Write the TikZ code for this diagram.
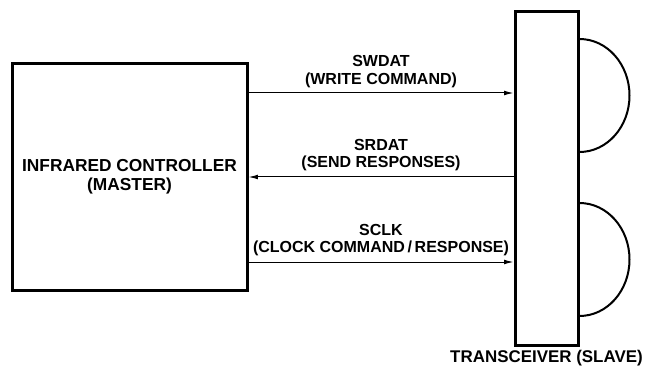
\documentclass[tikz,border=0pt]{standalone}
\usepackage{fontspec}
\setmainfont{Liberation Sans}
\usepackage{tikz}
\usetikzlibrary{arrows.meta}

\tikzset{
  blockbox/.style={draw, line width=2.25pt, inner sep=0pt},
  sigarrow/.style={line width=0.75pt, -{Latex[length=7pt,width=3.5pt]}},
  siglabel/.style={inner sep=0.75pt, align=center, font=\fontsize{12}{13}\selectfont\bfseries},
}

\begin{document}
\begin{tikzpicture}[x=0.75pt,y=0.75pt,yscale=-1,xscale=1]
\useasboundingbox (0,0) rectangle (646,367);

% Block
\node (ctrl) [blockbox, minimum width=176.25pt, minimum height=170.25pt, align=center,
  font=\fontsize{13}{14.25}\selectfont\bfseries] at (129.5,177) {INFRARED CONTROLLER\\(MASTER)};
% Block
\node (xcvr) [blockbox, minimum width=47.25pt, minimum height=249.75pt] at (546.5,178.5) {};
% Text Node
\node (xcvrlbl) [inner sep=0.75pt, font=\fontsize{12.7}{13}\selectfont\bfseries] at (546.5,358) {TRANSCEIVER (SLAVE)};

% Text Node
\node (swlbl) [siglabel] at (381,71.5) {SWDAT\\(WRITE COMMAND)};
% Text Node
\node (srlbl) [siglabel] at (381,155) {SRDAT\\(SEND RESPONSES)};
% Text Node
\node (sclbl) [siglabel] at (381,240) {SCLK\\(CLOCK COMMAND\,/\,RESPONSE)};

\coordinate (sw) at (0,93);
\coordinate (sr) at (0,177);
\coordinate (sc) at (0,262);
\coordinate (topdome) at (0,39);
\coordinate (botdome) at (0,203);

% Connection
\draw [sigarrow] (ctrl.east |- sw) -- (xcvr.west |- sw);
% Connection
\draw [sigarrow] (xcvr.west |- sr) -- (ctrl.east |- sr);
% Connection
\draw [sigarrow] (ctrl.east |- sc) -- (xcvr.west |- sc);

% Dome
\draw [line width=1.5pt] (xcvr.east |- topdome) arc [start angle=-90, end angle=90, x radius=50, y radius=56.5];
% Dome
\draw [line width=1.5pt] (xcvr.east |- botdome) arc [start angle=-90, end angle=90, x radius=50, y radius=56.5];

\end{tikzpicture}
\end{document}
